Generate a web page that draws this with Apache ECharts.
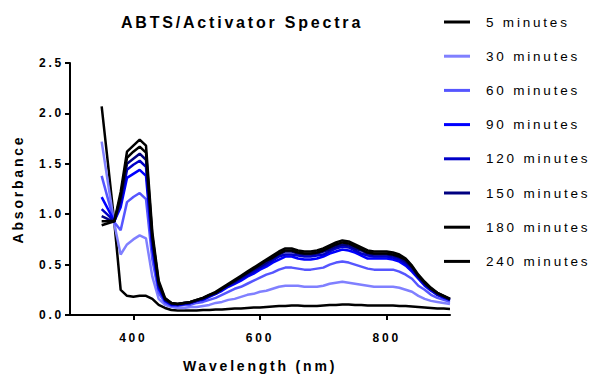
<!DOCTYPE html>
<html>
<head>
<meta charset="utf-8">
<script src="https://cdn.jsdelivr.net/npm/echarts@6/dist/echarts.min.js"></script>
<style>
  html, body { margin: 0; padding: 0; background: #fff; }
  #chart { width: 596px; height: 375px; }
  /* the original has very wide letter spacing on every label */
  #chart text { letter-spacing: 2.8px; }
</style>
</head>
<body>
<div id="chart"></div>
<script>
const wavelengths = [350, 360, 370, 380, 390, 400, 410, 420, 430, 440, 450, 460,
  470, 480, 490, 500, 510, 520, 530, 540, 550, 560, 570, 580, 590, 600,
  610, 620, 630, 640, 650, 660, 670, 680, 690, 700, 710, 720, 730, 740,
  750, 760, 770, 780, 790, 800, 810, 820, 830, 840, 850, 860, 870, 880, 890, 900];

const min5 = [2.07, 1.50, 0.92, 0.25, 0.19, 0.18, 0.19, 0.19, 0.16, 0.10, 0.07, 0.05,
  0.045, 0.045, 0.045, 0.045, 0.05, 0.05, 0.055, 0.055, 0.06, 0.065, 0.065, 0.07, 0.075, 0.075,
  0.08, 0.085, 0.09, 0.09, 0.095, 0.095, 0.09, 0.09, 0.09, 0.095, 0.10, 0.10, 0.105, 0.105,
  0.10, 0.10, 0.095, 0.095, 0.095, 0.095, 0.095, 0.09, 0.09, 0.085, 0.08, 0.075, 0.07, 0.065, 0.065, 0.06];
const min30 = [1.72, 1.31, 0.90, 0.60, 0.70, 0.75, 0.79, 0.76, 0.38, 0.16, 0.10, 0.08,
  0.07, 0.07, 0.08, 0.08, 0.09, 0.10, 0.12, 0.13, 0.15, 0.16, 0.18, 0.20, 0.21, 0.23,
  0.24, 0.26, 0.28, 0.29, 0.29, 0.29, 0.28, 0.28, 0.28, 0.29, 0.31, 0.32, 0.33, 0.32,
  0.31, 0.30, 0.29, 0.28, 0.28, 0.28, 0.28, 0.27, 0.25, 0.23, 0.19, 0.16, 0.14, 0.13, 0.12, 0.11];
const min60 = [1.38, 1.15, 0.92, 0.84, 1.12, 1.17, 1.21, 1.15, 0.55, 0.22, 0.12, 0.09,
  0.09, 0.10, 0.10, 0.12, 0.13, 0.15, 0.17, 0.20, 0.23, 0.26, 0.28, 0.31, 0.34, 0.37,
  0.40, 0.42, 0.45, 0.47, 0.47, 0.46, 0.45, 0.45, 0.46, 0.47, 0.50, 0.52, 0.53, 0.52,
  0.50, 0.48, 0.46, 0.45, 0.45, 0.45, 0.45, 0.43, 0.40, 0.36, 0.29, 0.25, 0.20, 0.17, 0.15, 0.13];
const min90 = [1.17, 1.05, 0.93, 1.07, 1.36, 1.40, 1.44, 1.38, 0.66, 0.26, 0.14, 0.10,
  0.10, 0.11, 0.12, 0.14, 0.15, 0.18, 0.21, 0.24, 0.28, 0.31, 0.34, 0.38, 0.41, 0.45,
  0.48, 0.52, 0.55, 0.58, 0.58, 0.56, 0.55, 0.55, 0.56, 0.58, 0.61, 0.63, 0.65, 0.64,
  0.62, 0.59, 0.56, 0.56, 0.56, 0.56, 0.55, 0.53, 0.49, 0.43, 0.36, 0.29, 0.24, 0.20, 0.17, 0.15];
const min120 = [1.05, 0.99, 0.93, 1.11, 1.44, 1.49, 1.53, 1.47, 0.70, 0.28, 0.15, 0.11,
  0.10, 0.11, 0.12, 0.14, 0.16, 0.19, 0.21, 0.25, 0.29, 0.32, 0.36, 0.39, 0.43, 0.47,
  0.50, 0.54, 0.58, 0.60, 0.60, 0.59, 0.58, 0.58, 0.59, 0.60, 0.63, 0.66, 0.68, 0.67,
  0.64, 0.61, 0.59, 0.58, 0.58, 0.58, 0.57, 0.55, 0.51, 0.45, 0.37, 0.30, 0.25, 0.20, 0.18, 0.15];
const min150 = [0.98, 0.95, 0.93, 1.14, 1.50, 1.55, 1.60, 1.54, 0.74, 0.30, 0.15, 0.11,
  0.11, 0.12, 0.12, 0.14, 0.16, 0.19, 0.22, 0.26, 0.30, 0.33, 0.37, 0.41, 0.45, 0.48,
  0.52, 0.56, 0.60, 0.63, 0.63, 0.61, 0.60, 0.60, 0.61, 0.63, 0.65, 0.68, 0.70, 0.69,
  0.66, 0.64, 0.61, 0.60, 0.60, 0.60, 0.59, 0.57, 0.53, 0.47, 0.38, 0.31, 0.26, 0.21, 0.18, 0.15];
const min180 = [0.93, 0.93, 0.93, 1.18, 1.56, 1.62, 1.67, 1.61, 0.78, 0.32, 0.16, 0.12,
  0.11, 0.12, 0.13, 0.15, 0.17, 0.20, 0.22, 0.26, 0.30, 0.34, 0.38, 0.42, 0.46, 0.50,
  0.54, 0.57, 0.61, 0.64, 0.64, 0.62, 0.61, 0.61, 0.62, 0.64, 0.67, 0.70, 0.72, 0.71,
  0.68, 0.65, 0.62, 0.61, 0.61, 0.61, 0.60, 0.58, 0.55, 0.48, 0.39, 0.32, 0.26, 0.22, 0.19, 0.16];
const min240 = [0.89, 0.91, 0.93, 1.22, 1.62, 1.68, 1.74, 1.68, 0.82, 0.34, 0.17, 0.12,
  0.11, 0.12, 0.13, 0.15, 0.17, 0.20, 0.23, 0.27, 0.31, 0.35, 0.39, 0.43, 0.47, 0.51,
  0.55, 0.59, 0.63, 0.66, 0.66, 0.64, 0.63, 0.63, 0.64, 0.66, 0.69, 0.72, 0.74, 0.73,
  0.70, 0.67, 0.64, 0.63, 0.63, 0.63, 0.62, 0.60, 0.56, 0.49, 0.40, 0.33, 0.27, 0.22, 0.19, 0.16];

const seriesNames = ['5 minutes', '30 minutes', '60 minutes', '90 minutes',
  '120 minutes', '150 minutes', '180 minutes', '240 minutes'];
const seriesColors = ['#000000', '#8080ff', '#5656ff', '#0000ff',
  '#0000c8', '#000080', '#000000', '#000000'];
const xTicks = [400, 600, 800];
const yTicks = [0, 0.5, 1, 1.5, 2, 2.5];

const allValues = [min5, min30, min60, min90, min120, min150, min180, min240];
const font = "'Liberation Sans', Arial, sans-serif";

const chart = echarts.init(document.getElementById('chart'), null, { renderer: 'svg' });

const axisCommon = {
  axisLine: { lineStyle: { color: '#000', width: 2 } },
  axisTick: { length: 5, lineStyle: { color: '#000', width: 2 } },
  splitLine: { show: false },
  nameLocation: 'middle',
  nameTextStyle: { fontFamily: font, fontSize: 14, fontWeight: 'bold', color: '#000' }
};

const option = {
  animation: false,
  title: {
    text: 'ABTS/Activator Spectra',
    left: 121,
    top: 14,
    padding: 0,
    textStyle: { fontFamily: font, fontSize: 16, fontWeight: 'bold', color: '#000' }
  },
  legend: {
    orient: 'vertical',
    left: 444,
    top: 14,
    padding: 0,
    icon: 'rect',
    itemWidth: 26,
    itemHeight: 3,
    itemGap: 18.2,
    textStyle: { fontFamily: font, fontSize: 13.5, color: '#000', lineHeight: 16, padding: [0, 0, 0, 11] },
    data: seriesNames
  },
  // fixed plot box, do not let v6 shrink it to fit the axis name
  grid: { left: 70, right: 146, top: 63, bottom: 60, outerBoundsMode: 'none' },
  xAxis: Object.assign({}, axisCommon, {
    type: 'value',
    min: 300,
    max: 900,
    name: 'Wavelength (nm)',
    nameGap: 44,
    axisTick: Object.assign({}, axisCommon.axisTick, { customValues: xTicks }),
    axisLabel: {
      customValues: xTicks,
      margin: 17,
      fontFamily: font, fontSize: 12, fontWeight: 'bold', color: '#000'
    }
  }),
  yAxis: Object.assign({}, axisCommon, {
    type: 'value',
    min: 0,
    max: 2.5,
    interval: 0.5,
    name: 'Absorbance',
    nameGap: 45,
    axisTick: Object.assign({}, axisCommon.axisTick, { customValues: yTicks }),
    axisLabel: {
      customValues: yTicks,
      margin: 6,
      formatter: v => v.toFixed(1),
      fontFamily: font, fontSize: 12, fontWeight: 'bold', color: '#000'
    }
  }),
  series: allValues.map((vals, i) => ({
    name: seriesNames[i],
    type: 'line',
    symbol: 'none',
    data: vals.map((v, j) => [wavelengths[j], v]),
    lineStyle: { color: seriesColors[i], width: 2.5 },
    itemStyle: { color: seriesColors[i] }
  }))
};

chart.setOption(option);
</script>
</body>
</html>
